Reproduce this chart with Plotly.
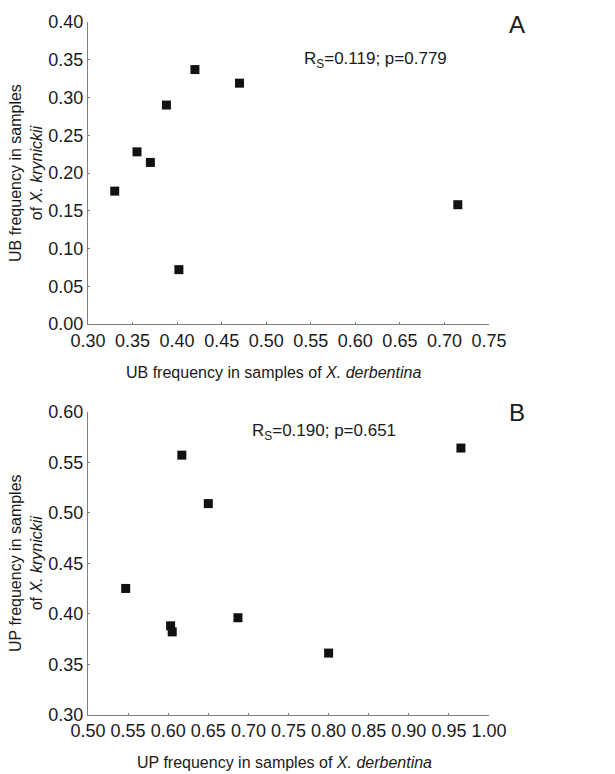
import plotly.graph_objects as go

# Panel A: UB frequency
ub_derbentina = [0.330, 0.355, 0.370, 0.388, 0.420, 0.470, 0.402, 0.715]
ub_krynickii = [0.176, 0.228, 0.214, 0.290, 0.337, 0.319, 0.072, 0.158]

# Panel B: UP frequency
up_derbentina = [0.617, 0.650, 0.965, 0.547, 0.603, 0.605, 0.687, 0.800]
up_krynickii = [0.557, 0.509, 0.564, 0.425, 0.388, 0.382, 0.396, 0.361]

ub_xticks = [0.30, 0.35, 0.40, 0.45, 0.50, 0.55, 0.60, 0.65, 0.70, 0.75]
ub_yticks = [0.00, 0.05, 0.10, 0.15, 0.20, 0.25, 0.30, 0.35, 0.40]
up_xticks = [0.50, 0.55, 0.60, 0.65, 0.70, 0.75, 0.80, 0.85, 0.90, 0.95, 1.00]
up_yticks = [0.30, 0.35, 0.40, 0.45, 0.50, 0.55, 0.60]

FONT = "Liberation Sans, Arial, sans-serif"
TXT = "#1a1a1a"
W, H = 615, 774
ml, mr, mt, mb = 88, 126, 22, 59
pw = W - ml - mr
ph = H - mt - mb

def px_x(p):
    return (p - ml) / pw

def px_y(p):
    return 1 - (p - mt) / ph

def dom(top_px, bot_px):
    return [px_y(bot_px), px_y(top_px)]

fig = go.Figure()
marker = dict(symbol="square", size=9, color="#111111")
fig.add_trace(go.Scatter(x=ub_derbentina, y=ub_krynickii, mode="markers",
                         marker=marker, xaxis="x", yaxis="y", showlegend=False,
                         cliponaxis=False))
fig.add_trace(go.Scatter(x=up_derbentina, y=up_krynickii, mode="markers",
                         marker=marker, xaxis="x2", yaxis="y2", showlegend=False,
                         cliponaxis=False))

axcommon = dict(showgrid=False, zeroline=False, showline=True, linecolor="#808080",
                linewidth=1, ticks="inside", ticklen=2, tickcolor="#808080",
                tickfont=dict(family=FONT, size=18, color=TXT), mirror=False,
                automargin=False)

fig.update_layout(
    width=W, height=H,
    margin=dict(l=ml, r=mr, t=mt, b=mb, autoexpand=False),
    plot_bgcolor="white", paper_bgcolor="white",
    font=dict(family=FONT, size=16, color=TXT),
    xaxis=dict(axcommon, domain=[0, 1], range=[0.30, 0.75], tickvals=ub_xticks,
               ticktext=[f"{v:.2f}" for v in ub_xticks], anchor="y"),
    yaxis=dict(axcommon, domain=dom(22, 324), range=[0, 0.40], tickvals=ub_yticks,
               ticktext=[f"{v:.2f}" for v in ub_yticks], anchor="x"),
    xaxis2=dict(axcommon, domain=[0, 1], range=[0.50, 1.00], tickvals=up_xticks,
                ticktext=[f"{v:.2f}" for v in up_xticks], anchor="y2"),
    yaxis2=dict(axcommon, domain=dom(411.7, 714.7), range=[0.30, 0.60], tickvals=up_yticks,
                ticktext=[f"{v:.2f}" for v in up_yticks], anchor="x2"),
)

def ann(text, x, y, size=16, xanchor="center", angle=0):
    fig.add_annotation(text=text, xref="paper", yref="paper", x=px_x(x), y=px_y(y),
                       xanchor=xanchor, yanchor="middle", showarrow=False, textangle=angle,
                       font=dict(family=FONT, size=size, color=TXT))

# axis titles
ann("UB frequency in samples of <i>X. derbentina</i>", 273, 372)
ann("UP frequency in samples of <i>X. derbentina</i>", 284, 762)
ann("UB frequency in samples<br>of <i>X. krynickii</i>", 26, 173, angle=-90)
ann("UP frequency in samples<br>of <i>X. krynickii</i>", 26, 563, angle=-90)

# statistics and panel letters
ann("R<sub>S</sub>=0.119; p=0.779", 302, 60, size=17, xanchor="left")
ann("R<sub>S</sub>=0.190; p=0.651", 250, 432, size=17, xanchor="left")
ann("A", 507, 25, size=24, xanchor="left")
ann("B", 507, 413, size=24, xanchor="left")

fig.write_html("out.html")
